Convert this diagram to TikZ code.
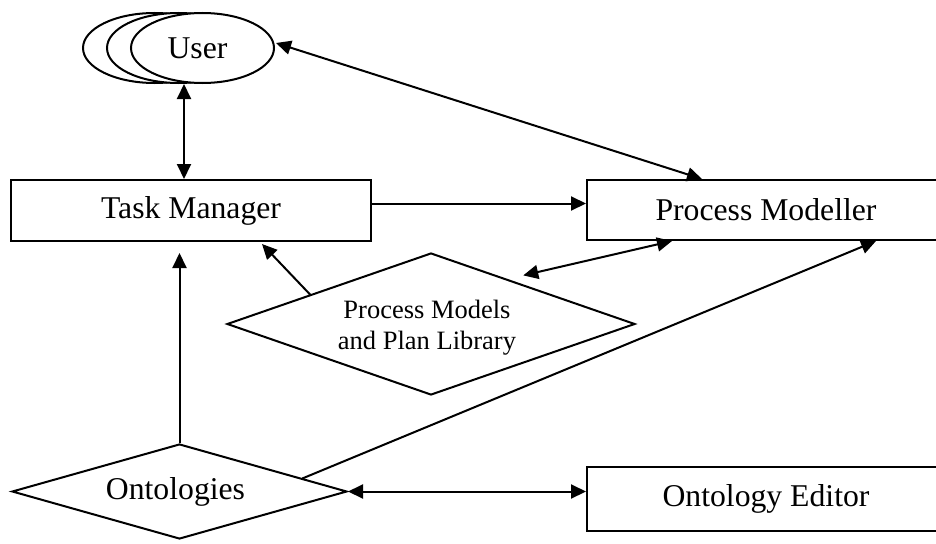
\documentclass[tikz,border=0pt]{standalone}
\usepackage{fontspec}
\setmainfont{Liberation Serif}
\usetikzlibrary{shapes.geometric,arrows.meta,calc}
\newcommand{\bigtext}{\fontsize{31.7}{38}\selectfont}
\newcommand{\smalltext}{\fontsize{26.5}{31}\selectfont}
\begin{document}
\begin{tikzpicture}[x=1pt,y=-1pt,
  line width=2pt,
  >={Triangle[length=15pt,width=14pt]},
  box/.style={draw,rectangle,minimum height=61pt,inner sep=0pt,font=\bigtext},
  rhomb/.style={draw,diamond,inner sep=0pt},
  oval/.style={draw,ellipse,fill=white,minimum width=143pt,minimum height=70pt,inner sep=0pt},
  caption/.style={inner sep=0pt,align=center},
  arr/.style={->},
  dbl/.style={<->}]
\clip (0,0) rectangle (936,543);

% stacked user ellipses
\node[oval] (userb) at (154.5,48) {};
\node[oval] (userm) at (178.5,48) {};
\node[oval] (user) at (202.5,48) {};
\node[caption,font=\bigtext] (usertext) at ($(user.center)+(-5,0)$) {User};

% boxes
\node[box,minimum width=360pt] (tm) at (191,210.5) {Task Manager};
\node[box,minimum width=358pt,minimum height=60pt] (pmod) at (766,210) {Process Modeller};
\node[box,minimum width=358pt,minimum height=64pt] (oe) at (766,499) {Ontology Editor};

% diamonds
\node[rhomb,aspect=2.87,minimum width=408pt,minimum height=142pt] (pml) at (431,324) {};
\node[caption,font=\smalltext] (pmltext) at ($(pml.center)+(-4,4)$)
  {Process Models\\and Plan Library};
\node[rhomb,aspect=3.5,minimum width=335pt,minimum height=95pt] (ont) at (179.5,491.5) {};
\node[caption,font=\bigtext] (onttext) at ($(ont.center)+(-4,0)$) {Ontologies};

% connectors
\coordinate (tmtop) at ($(tm.north)+(-7,0)$);
\draw[dbl] (tmtop) -- (tmtop |- user.south);
\draw[dbl] ($(pmod.north west)+(116,0)$) -- ($(user.east)+(1,-5)$);
\coordinate (tmr) at ($(tm.east)+(0,-7)$);
\draw[arr] (tmr) -- (tmr -| pmod.west);
\draw[arr] ($(pml.west)!0.41!(pml.north)$) -- ($(tm.south west)+(252,2)$);
\draw[dbl] ($(pml.north)!0.45!(pml.east)+(0,-9)$) -- ($(pmod.south west)+(86,0)$);
\draw[arr] (ont.north) -- ($(ont.north |- tm.south)+(0,11)$);
\draw[arr] ($(ont.north)!0.73!(ont.east)$) -- ($(pmod.south west)+(290,0)$);
\draw[dbl] (ont.east) -- (ont.east -| oe.west);
\end{tikzpicture}
\end{document}
